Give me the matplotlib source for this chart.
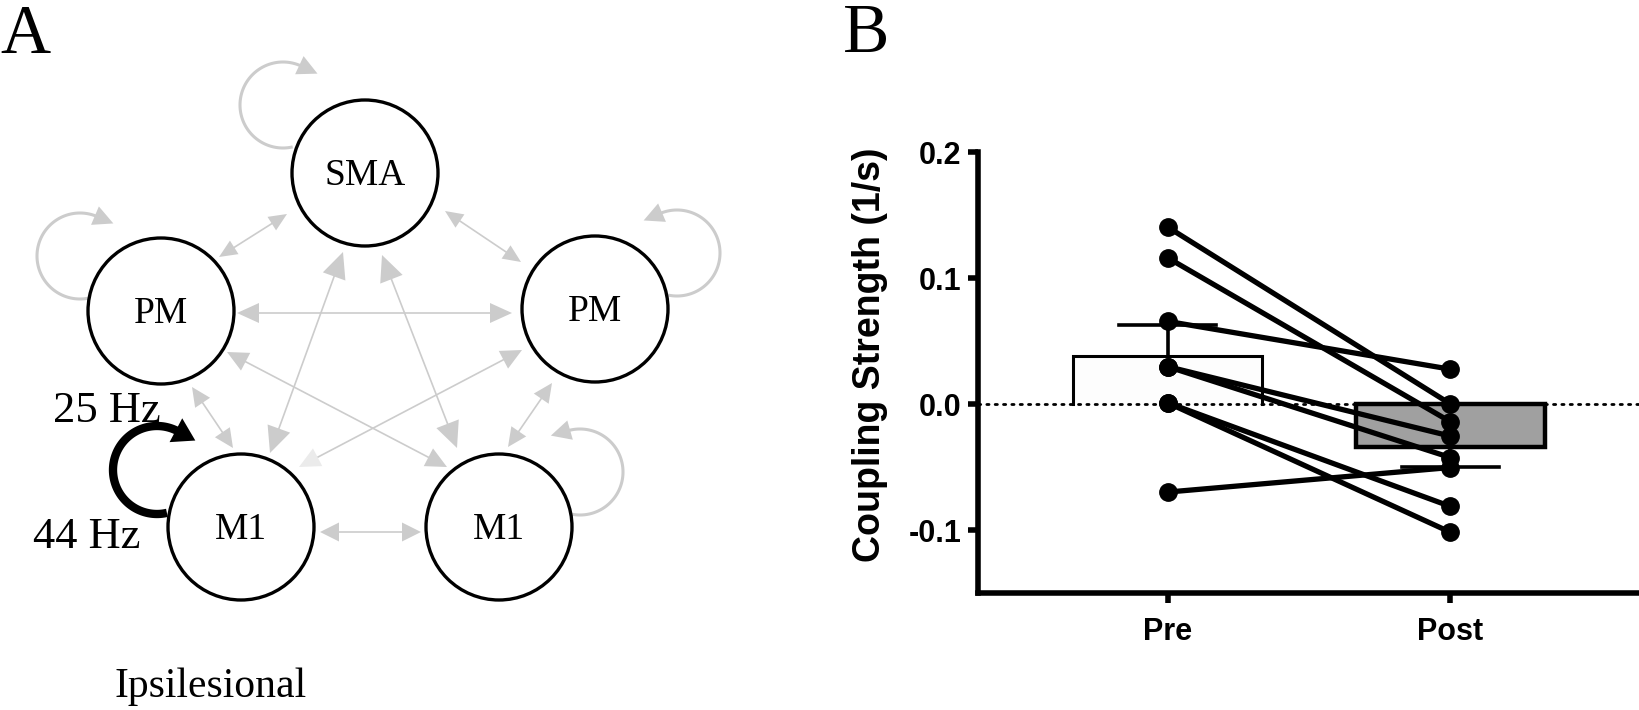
import numpy as np
import matplotlib
matplotlib.use("Agg")
import matplotlib.pyplot as plt
from matplotlib.patches import Circle, Polygon

# ---------------- data: panel B ----------------
categories = ["Pre", "Post"]
pre_values = [0.1405, 0.1161, 0.0656, 0.0297, 0.0297, 0.001, 0.001, -0.0699]
post_values = [0.0, -0.0141, 0.0276, -0.0255, -0.0425, -0.0813, -0.1018, -0.0504]
bar_means = [0.038, -0.034]
bar_sem = [0.025, 0.016]
y_ticks = [-0.1, 0.0, 0.1, 0.2]
y_ticklabels = ["-0.1", "0.0", "0.1", "0.2"]
y_label = "Coupling Strength (1/s)"

# ---------------- data: panel A (network diagram) ----------------
node_names = ["SMA", "lPM", "rPM", "lM1", "rM1"]
node_labels = ["SMA", "PM", "PM", "M1", "M1"]
edges = [("SMA", "lPM"), ("SMA", "rPM"), ("lPM", "rPM"), ("SMA", "lM1"),
         ("SMA", "rM1"), ("lPM", "rM1"), ("rPM", "lM1"), ("lPM", "lM1"),
         ("rPM", "rM1"), ("lM1", "rM1")]
self_loops = ["SMA", "lPM", "rPM", "rM1"]
highlight_loop = "lM1"
freq_labels = ["25 Hz", "44 Hz"]
caption = "Ipsilesional"

# layout (pixel space of the left panel, y downwards)
node_xy = {"SMA": (365, 173), "lPM": (161, 311), "rPM": (595, 309),
           "lM1": (241, 527), "rM1": (499, 527)}
node_r = 73
edge_tips = {  # tip at first node, tip at second node, head length, head width
    ("SMA", "lPM"): ((287, 214), (219, 257), 18, 16),
    ("SMA", "rPM"): ((445, 211), (521, 262), 18, 16),
    ("lPM", "rPM"): ((237, 313), (512, 313), 22, 20),
    ("SMA", "lM1"): ((343, 252), (270, 453), 26, 24),
    ("SMA", "rM1"): ((382, 255), (457, 448), 26, 24),
    ("lPM", "rM1"): ((227, 352), (447, 467), 21, 20),
    ("rPM", "lM1"): ((522, 350), (299, 467), 21, 20),
    ("lPM", "lM1"): ((192, 387), (233, 448), 19, 18),
    ("rPM", "rM1"): ((552, 383), (508, 447), 19, 18),
    ("lM1", "rM1"): ((320, 532), (421, 532), 19, 19),
}
faint_head = ("rPM", "lM1")
loop_geom = {  # center, radius, start angle, end angle (deg, y-down)
    "SMA": ((283, 105), 43, 77, 295),
    "lPM": ((80, 256), 43, 79, 293),
    "rPM": ((677, 253), 43, 102, -113),
    "rM1": ((580, 472), 43, 101, -106),
    "lM1": ((157, 470), 44, 77, 298),
}

serif = ["Liberation Serif", "DejaVu Serif"]
sans = ["Liberation Sans", "DejaVu Sans"]
gray = "#cccccc"

fig = plt.figure(figsize=(16.4, 7.1), dpi=100)

# ================= Panel A =================
axA = fig.add_axes([0, 0, 820 / 1640, 1])
axA.set_xlim(0, 820)
axA.set_ylim(710, 0)
axA.axis("off")

axA.text(0, 53, "A", fontsize=50, family=serif, ha="left", va="baseline")


def draw_head(ax, tip, d, L, W, color, z=2):
    tip = np.asarray(tip, float)
    d = np.asarray(d, float) / np.linalg.norm(d)
    n = np.array([-d[1], d[0]])
    base = tip - L * d
    ax.add_patch(Polygon([tip, base + n * W / 2, base - n * W / 2], closed=True,
                         facecolor=color, edgecolor="none", zorder=z))


for (a, b) in edges:
    p0, p1, hl, hw = edge_tips[(a, b)]
    p0 = np.array(p0, float)
    p1 = np.array(p1, float)
    d = (p1 - p0) / np.linalg.norm(p1 - p0)
    q0 = p0 + d * hl * 0.8
    q1 = p1 - d * hl * 0.8
    axA.plot([q0[0], q1[0]], [q0[1], q1[1]], color=gray, lw=1.2, zorder=2)
    draw_head(axA, p0, -d, hl, hw, gray)
    draw_head(axA, p1, d, hl, hw, "#ebebeb" if (a, b) == faint_head else gray)


def draw_loop(ax, name, color, lw, L, W):
    (cx, cy), r, a0, a1 = loop_geom[name]
    th = np.radians(np.linspace(a0, a1, 100))
    xs = cx + r * np.cos(th)
    ys = cy + r * np.sin(th)
    ax.plot(xs, ys, color=color, lw=lw, zorder=2, solid_capstyle="butt")
    sgn = np.sign(a1 - a0)
    t = np.radians(a1)
    d = sgn * np.array([-np.sin(t), np.cos(t)])
    end = np.array([xs[-1], ys[-1]])
    draw_head(ax, end - d * 2 + d * L, d, L, W, color)


for name in self_loops:
    draw_loop(axA, name, gray, 2.2, 20, 20)
draw_loop(axA, highlight_loop, "black", 6, 22, 27)

for name, lab in zip(node_names, node_labels):
    cx, cy = node_xy[name]
    axA.add_patch(Circle((cx, cy), node_r, facecolor="white", edgecolor="black",
                         lw=2.4, zorder=3))
    axA.text(cx, cy + 12, lab, fontsize=27, family=serif, ha="center",
             va="baseline", zorder=4)

axA.text(53, 422, freq_labels[0], fontsize=32, family=serif, ha="left", va="baseline")
axA.text(33, 548, freq_labels[1], fontsize=32, family=serif, ha="left", va="baseline")
axA.text(115, 697, caption, fontsize=30, family=serif, ha="left", va="baseline")

# ================= Panel B =================
fig.text(843 / 1640, 1 - 52 / 710, "B", fontsize=50, family=serif,
         ha="left", va="baseline")

axB = fig.add_axes([978 / 1640, (710 - 593) / 710, (1640 - 978) / 1640, (593 - 152) / 710])
axB.set_xlim(-0.67, 1.67)
axB.set_ylim(-0.15, 0.2)
x = np.arange(len(categories))
w = 0.67

# bars (fills)
axB.bar(x, bar_means, width=w, color=["#fdfdfd", "#a0a0a0"], edgecolor="none", zorder=1)
# pre bar outline (three sides)
axB.plot([x[0] - w / 2, x[0] - w / 2, x[0] + w / 2, x[0] + w / 2],
         [0, bar_means[0], bar_means[0], 0], color="black", lw=2.2, zorder=2,
         solid_joinstyle="miter")
# post bar outline (full)
axB.bar(x[1], bar_means[1], width=w, facecolor="none", edgecolor="black", lw=3.2, zorder=2)

# zero line
axB.axhline(0, color="black", lw=2.0, ls=(0, (0.8, 2.2)), dash_capstyle="round", zorder=2.5)

# error bars (one-sided)
cap = 0.17
for xi, m, e in zip(x, bar_means, bar_sem):
    end = m + e if m >= 0 else m - e
    axB.plot([xi, xi], [m, end], color="black", lw=2.6, zorder=3)
    axB.plot([xi - cap, xi + cap], [end, end], color="black", lw=2.6, zorder=3)

# individual subjects
for a, b in zip(pre_values, post_values):
    axB.plot(x, [a, b], color="black", lw=3.8, marker="o", ms=12.5,
             mfc="black", mec="black", zorder=4, solid_capstyle="round")

for s in ["top", "right"]:
    axB.spines[s].set_visible(False)
for s in ["left", "bottom"]:
    axB.spines[s].set_linewidth(4)
    axB.spines[s].set_capstyle("projecting")

axB.set_yticks(y_ticks)
axB.set_yticklabels(y_ticklabels)
axB.set_xticks(x)
axB.set_xticklabels(categories)
axB.tick_params(axis="both", width=4, length=7, direction="out")
axB.tick_params(axis="y", pad=5)
axB.tick_params(axis="x", pad=10)
for lab in axB.get_xticklabels() + axB.get_yticklabels():
    lab.set_fontfamily(sans)
    lab.set_fontweight("bold")
    lab.set_fontsize(22)

axB.set_ylabel(y_label, fontsize=27, fontweight="bold", family=sans)
axB.yaxis.set_label_coords(-0.136, 0.54)
axB.patch.set_alpha(0)

fig.savefig("out.png", dpi=100)
